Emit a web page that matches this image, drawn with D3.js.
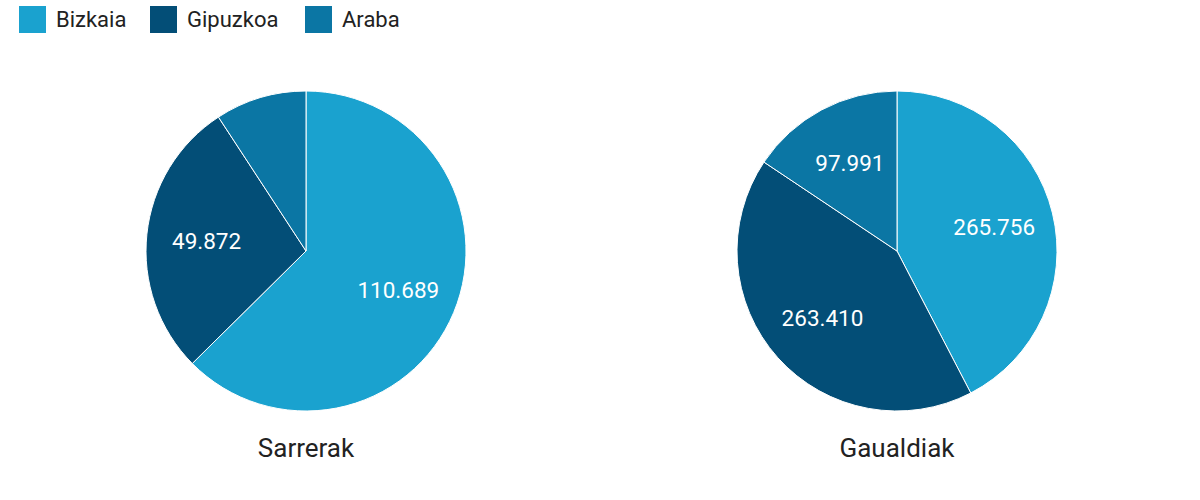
<!DOCTYPE html>
<html>
<head>
<meta charset="utf-8">
<script src="https://cdn.jsdelivr.net/npm/d3@7"></script>
<style>
  body { margin: 0; background: #fff; }
  text { font-family: Roboto, "Noto Sans", sans-serif; }
</style>
</head>
<body>
<div class="chart"></div>
<script>
// lurraldeak eta kolorea
var series = ["Bizkaia", "Gipuzkoa", "Araba"];
var color = ["#1aa2cf", "#034e77", "#0b76a4"];

var titles = ["Sarrerak", "Gaualdiak"];
var data_sarrerak = [110689, 49872, 16300];
var data_gaualdiak = [265756, 263410, 97991];
var showLabel = [[true, true, false], [true, true, true]];

var svg = d3.select(".chart")
            .append("svg")
            .attr("width", 1200)
            .attr("height", 500);

var fmt = function (v) { return d3.format(",")(v).replace(/,/g, "."); };

// legend
var legendX = [19, 150, 305];
for (var i = 0; i < series.length; i++) {
    svg.append("rect")
        .attr("x", legendX[i])
        .attr("y", 6)
        .attr("width", 27)
        .attr("height", 27)
        .attr("fill", color[i]);

    svg.append("text")
        .attr("x", legendX[i] + 37)
        .attr("y", 27)
        .text(series[i])
        .style("font-size", "22px")
        .attr("fill", "#222");
}

var radius = 160;
var centers = [306, 897];
var cy = 251;
var pie = d3.pie().sort(null).startAngle(0).endAngle(2 * Math.PI);
var arc = d3.arc().innerRadius(0).outerRadius(radius);
var labelArc = d3.arc().innerRadius(100).outerRadius(100);

[data_sarrerak, data_gaualdiak].forEach(function (values, k) {
    var g = svg.append("g")
        .attr("transform", "translate(" + centers[k] + "," + cy + ")");

    var slices = pie(values);

    g.selectAll("path")
        .data(slices)
        .enter()
        .append("path")
        .attr("d", arc)
        .attr("fill", function (d, i) { return color[i]; })
        .attr("stroke", "#fff")
        .attr("stroke-width", 1);

    g.selectAll("text.lbl")
        .data(slices)
        .enter()
        .filter(function (d, i) { return showLabel[k][i]; })
        .append("text")
        .attr("class", "lbl")
        .attr("transform", function (d) { return "translate(" + labelArc.centroid(d) + ")"; })
        .attr("text-anchor", "middle")
        .attr("dy", "0.36em")
        .text(function (d) { return fmt(d.data); })
        .style("font-size", "22.5px")
        .attr("fill", "#fff");

    svg.append("text")
        .attr("x", centers[k])
        .attr("y", 457)
        .attr("text-anchor", "middle")
        .text(titles[k])
        .style("font-size", "26px")
        .attr("fill", "#222");
});
</script>
</body>
</html>
